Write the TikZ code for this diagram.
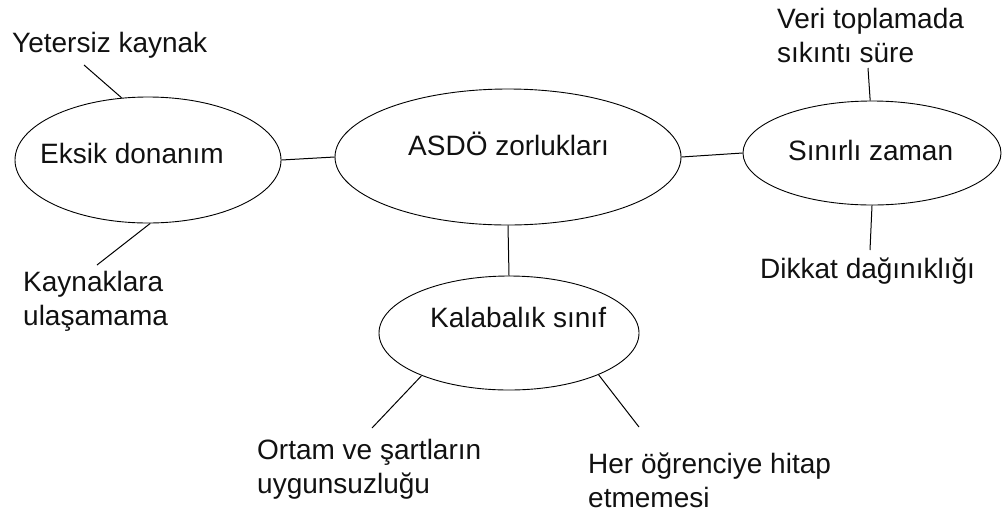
\documentclass[tikz,border=0pt]{standalone}
\usepackage{fontspec}
\setmainfont{Liberation Sans}
\usetikzlibrary{shapes.geometric}
\definecolor{InkText}{HTML}{111111}

\tikzset{
  oval/.style={draw=black,ellipse,line width=0.9pt,inner sep=0pt},
  lbl/.style={anchor=base west,inner sep=0pt,text=InkText,align=left,
              font=\fontsize{28}{34}\selectfont},
  link/.style={draw=black,line width=1pt}
}

\begin{document}
\begin{tikzpicture}[x=1pt,y=-1pt]
  \useasboundingbox (0,0) rectangle (1003,515);

  % ovals
  \node[oval,minimum width=266,minimum height=126] (eksik)     at (148,160) {};
  \node[oval,minimum width=346,minimum height=136] (zorluk)    at (508,157) {};
  \node[oval,minimum width=258,minimum height=104] (sinirli)   at (872,153) {};
  \node[oval,minimum width=260,minimum height=114] (kalabalik) at (509,333) {};

  % oval texts
  \node[lbl] (eksikT)     at (40,163)  {Eksik donanım};
  \node[lbl] (zorlukT)    at (408,155) {ASDÖ zorlukları};
  \node[lbl] (sinirliT)   at (788,160) {Sınırlı zaman};
  \node[lbl] (kalabalikT) at (430,327) {Kalabalık sınıf};

  % outer labels (base = last line)
  \node[lbl] (yetersiz)   at (12,52)   {Yetersiz kaynak};
  \node[lbl] (kaynak)     at (23,325)  {Kaynaklara\\ulaşamama};
  \node[lbl] (veri)       at (777,62)  {Veri toplamada\\sıkıntı süre};
  \node[lbl] (dikkat)     at (760,278) {Dikkat dağınıklığı};
  \node[lbl] (ortam)      at (257,493) {Ortam ve şartların\\uygunsuzluğu};
  \node[lbl] (hitap)      at (588,507) {Her öğrenciye hitap\\etmemesi};

  % connectors
  \draw[link] (eksik.east) -- (zorluk.west);
  \draw[link] (zorluk.east) -- (sinirli.west);
  \draw[link] (zorluk.south) -- (kalabalik.north);

  \draw[link] ([shift={(72,13)}]yetersiz.base west) -- (eksik.113);
  \draw[link] ([shift={(74,-60)}]kaynak.base west) -- (eksik.-88);
  \draw[link] ([shift={(91,6)}]veri.base west) -- (sinirli.92);
  \draw[link] ([shift={(110,-28)}]dikkat.base west) -- (sinirli.south);
  \draw[link] ([shift={(115,-65)}]ortam.base west) -- (kalabalik.206);
  \draw[link] ([shift={(51,-80)}]hitap.base west) -- (kalabalik.-25);
\end{tikzpicture}
\end{document}
